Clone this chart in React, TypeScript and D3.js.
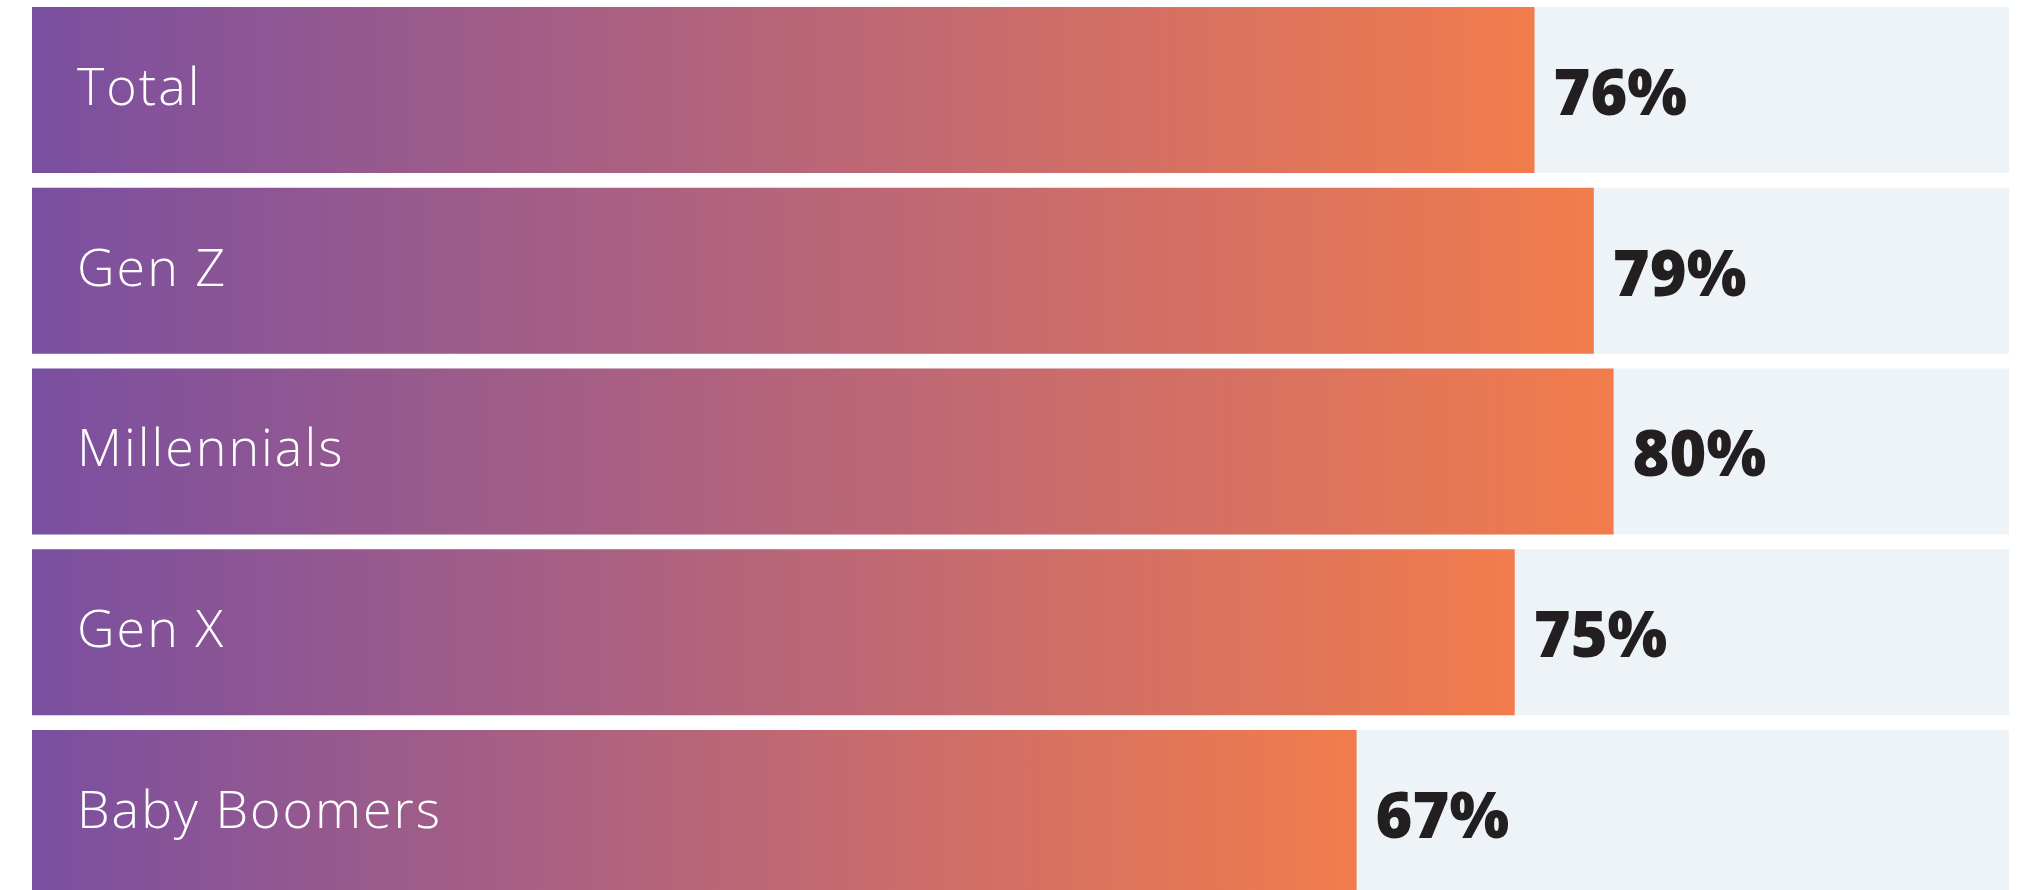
import React from "react";
import * as d3 from "d3";

const categories: string[] = ["Total", "Gen Z", "Millennials", "Gen X", "Baby Boomers"];
const values: number[] = [76, 79, 80, 75, 67];

const W = 2017;
const H = 890;
const LEFT = 32;
const TRACK_RIGHT = 2009;

export default function App() {
  const x = d3.scaleLinear().domain([0, 100]).range([LEFT, TRACK_RIGHT]);
  const y = d3
    .scaleBand<string>()
    .domain(categories)
    .range([7, 896])
    .paddingInner(0.0816)
    .paddingOuter(0);
  const bw = y.bandwidth();
  const fmt = (v: number) => `${d3.format("d")(v)}%`;

  return (
    <svg
      width={W}
      height={H}
      style={{ position: "absolute", left: 0, top: 0, display: "block", background: "#ffffff" }}
    >
      <defs>
        <linearGradient id="barGrad" x1="0" x2="1" y1="0" y2="0">
          <stop offset="0%" stopColor="#7A4FA0" />
          <stop offset="50%" stopColor="#B86579" />
          <stop offset="100%" stopColor="#F27C4C" />
        </linearGradient>
      </defs>
      {categories.map((c, i) => {
        const y0 = y(c) as number;
        const xEnd = x(values[i]);
        return (
          <g key={c}>
            <rect x={x(0)} y={y0} width={x(100) - x(0)} height={bw} fill="#EEF3F8" />
            <rect x={x(0)} y={y0} width={xEnd - x(0)} height={bw} fill="url(#barGrad)" />
            <text
              x={LEFT + 45}
              y={y0 + 98}
              fill="#ffffff"
              fontFamily="'Open Sans', 'Noto Sans', sans-serif"
              fontWeight={300}
              fontSize={52}
              letterSpacing={2}
            >
              {c}
            </text>
            <text
              x={xEnd + 19}
              y={y0 + 108}
              fill="#231F20"
              fontFamily="'Open Sans', 'Noto Sans', sans-serif"
              fontWeight={800}
              fontSize={63}
            >
              {fmt(values[i])}
            </text>
          </g>
        );
      })}
    </svg>
  );
}
